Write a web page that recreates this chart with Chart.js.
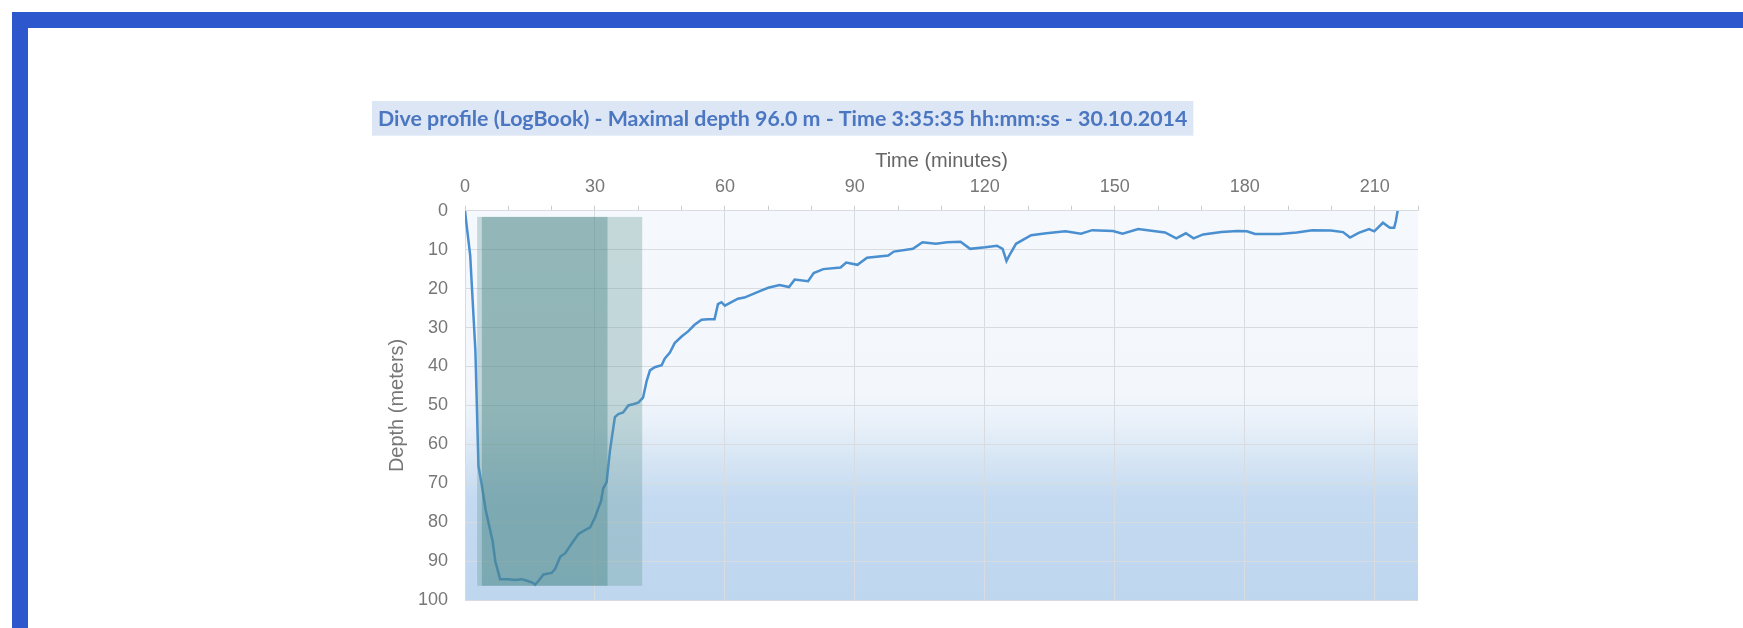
<!DOCTYPE html>
<html>
<head>
<meta charset="utf-8">
<script src="https://cdn.jsdelivr.net/npm/chart.js@4"></script>
<style>
  html, body { margin: 0; padding: 0; background: #fff; overflow: hidden; }
  #wrap { position: relative; width: 1743px; height: 628px; }
  #myChart { position: absolute; left: 0; top: 0; }
  .edge { position: absolute; background: #2c57cd; }
</style>
</head>
<body>
<div id="wrap">
  <canvas id="myChart" width="1743" height="628"></canvas>
  <div class="edge" style="left:12px; top:12px; width:1731px; height:16px;"></div>
  <div class="edge" style="left:12px; top:12px; width:16px; height:616px;"></div>
</div>
<script>
// dive log samples (minutes, meters)
const timeMin = [
  0, 0.3, 1.2, 2.4, 3.1, 3.8, 4.8, 5.8, 6.4, 7.0, 8.1, 10, 11.6, 13.1, 14.3, 15.4, 16.2, 17, 18.1, 20,
  20.8, 22, 23.1, 24.6, 26.2, 27.7, 28.9, 30, 30.8, 31.4, 31.9, 32.7, 33.5, 34.6, 35.4, 36.5, 37.7, 38.8, 40, 41.1,
  41.9, 42.7, 43.8, 45.4, 46.1, 47.3, 48.4, 50, 51.5, 53, 54.6, 56.1, 57.6, 58.4, 59.2, 60, 61.5, 63, 64.5, 66,
  68.2, 70, 72.6, 74.8, 76.1, 79.2, 80.5, 82.7, 86.7, 88.0, 90.6, 92.8, 97.7, 99.0, 103.4, 105.6, 108.7, 111.3, 114.4, 116.6,
  120.1, 122.8, 124.1, 125.0, 125.9, 127.2, 130.7, 134.2, 138.6, 142.2, 144.8, 149.6, 151.8, 155.4, 158.9, 161.6, 164.2, 166.4, 168.2, 170.4,
  174.6, 178.3, 180.5, 182.4, 188.0, 192.0, 195.6, 199.9, 202.7, 204.3, 206.3, 208.7, 209.9, 211.9, 213.5, 214.5, 214.9, 215.3
];
const depthM = [
  0, 3, 11.5, 36, 65.5, 70, 77, 82, 85, 90, 94.6, 94.6, 94.8, 94.6, 95, 95.4, 96, 95, 93.4, 93,
  92, 88.8, 88, 85.5, 83, 82, 81.3, 78.8, 76.3, 74.6, 71.3, 69.7, 61.3, 53, 52.2, 51.8, 50, 49.7, 49.3, 48,
  43.9, 41, 40.2, 39.7, 38, 36.4, 34, 32.3, 31, 29.3, 28, 27.9, 27.9, 24, 23.5, 24.4, 23.5, 22.6, 22.3, 21.6,
  20.6, 19.8, 19.1, 19.6, 17.7, 18.1, 16.0, 15.0, 14.6, 13.3, 13.9, 12.1, 11.5, 10.5, 9.8, 8.1, 8.5, 8.1, 8.0, 9.8,
  9.4, 9.0, 9.8, 12.9, 11.0, 8.5, 6.3, 5.8, 5.3, 5.9, 5.0, 5.2, 5.9, 4.7, 5.2, 5.6, 7.1, 5.8, 7.1, 6.1,
  5.5, 5.2, 5.3, 6.0, 6.0, 5.6, 5.0, 5.1, 5.5, 6.9, 5.7, 4.7, 5.3, 3.1, 4.4, 4.4, 2.6, 0
];

// shaded phases (minutes) and their depth span
const bandStart = [2.8, 3.9];
const bandEnd = [40.9, 32.9];
const bandTop = 1.6;
const bandBottom = 96.3;

const titleText = "Dive profile (LogBook) - Maximal depth 96.0 m - Time 3:35:35 hh:mm:ss - 30.10.2014";
const tickFont = { family: "Liberation Sans", size: 18 };
const axisFont = { family: "Liberation Sans", size: 20 };

const points = timeMin.map((t, i) => ({ x: t, y: depthM[i] }));

const plotBackground = {
  id: "plotBackground",
  beforeDraw(chart) {
    const { ctx, chartArea: a } = chart;
    const g = ctx.createLinearGradient(0, a.top, 0, a.bottom);
    g.addColorStop(0, "#f5f8fc");
    g.addColorStop(0.47, "#f3f7fc");
    g.addColorStop(0.55, "#e8f0f9");
    g.addColorStop(0.64, "#d6e5f4");
    g.addColorStop(0.74, "#c4daf1");
    g.addColorStop(1, "#bed6ee");
    ctx.save();
    ctx.fillStyle = g;
    ctx.fillRect(a.left, a.top, a.right - a.left, a.bottom - a.top);
    ctx.restore();
  }
};

const titleBackdrop = {
  id: "titleBackdrop",
  beforeDraw(chart) {
    const tb = chart.titleBlock;
    if (!tb) return;
    const { ctx } = chart;
    ctx.save();
    ctx.font = "bold 21.4px Lato";
    const w = ctx.measureText(titleText).width;
    ctx.fillStyle = "#dde6f4";
    ctx.fillRect(tb.left - 6, tb.top, w + 12, tb.height);
    ctx.restore();
  }
};

const phaseBands = {
  id: "phaseBands",
  afterDatasetsDraw(chart) {
    const { ctx, scales: { x, y } } = chart;
    const colors = ["rgba(92,150,145,0.32)", "rgba(60,125,125,0.36)"];
    ctx.save();
    for (let i = 0; i < bandStart.length; i++) {
      const x0 = x.getPixelForValue(bandStart[i]);
      const x1 = x.getPixelForValue(bandEnd[i]);
      const y0 = y.getPixelForValue(bandTop);
      const y1 = y.getPixelForValue(bandBottom);
      ctx.fillStyle = colors[i];
      ctx.fillRect(x0, y0, x1 - x0, y1 - y0);
    }
    ctx.restore();
  }
};

const ctx = document.getElementById("myChart").getContext("2d");
const myChart = new Chart(ctx, {
  type: "line",
  data: {
    datasets: [
      {
        label: "Depth",
        data: points,
        borderColor: "#4a8fd0",
        borderWidth: 2.5,
        pointRadius: 0,
        fill: false,
        tension: 0,
      },
    ],
  },
  options: {
    responsive: false,
    animation: false,
    devicePixelRatio: 1,
    layout: { padding: { left: 378, right: 325, top: 101, bottom: 17 } },
    plugins: {
      legend: { display: false },
      tooltip: { enabled: false },
      title: {
        display: true,
        text: titleText,
        align: "start",
        color: "#4a76c2",
        font: { family: "Lato", size: 21.4, weight: "bold" },
        padding: { top: 5, bottom: 4 },
      },
    },
    scales: {
      x: {
        type: "linear",
        position: "top",
        min: 0,
        max: 220,
        afterFit: (scale) => { scale.height = 75; },
        title: { display: true, text: "Time (minutes)", color: "#666", font: axisFont, padding: { top: 14, bottom: 0 } },
        ticks: {
          stepSize: 10,
          autoSkip: false,
          maxRotation: 0,
          padding: 8,
          color: "#777",
          font: tickFont,
          callback: (v) => (v % 30 === 0 ? v : ""),
        },
        grid: {
          color: (c) => (c.tick && c.tick.value % 30 === 0 ? "#d8dce1" : "rgba(0,0,0,0)"),
          tickColor: "#c9cdd2",
          tickLength: 5,
        },
        border: { color: "#d8dce1" },
      },
      y: {
        reverse: true,
        min: 0,
        max: 100,
        afterFit: (scale) => { scale.width = 87; },
        title: { display: true, text: "Depth (meters)", color: "#777", font: axisFont, padding: { top: 7, bottom: 0 } },
        ticks: { stepSize: 10, padding: 17, color: "#777", font: tickFont },
        grid: { color: "#d8dce1", drawTicks: false },
        border: { color: "#d8dce1" },
      },
    },
  },
  plugins: [plotBackground, titleBackdrop, phaseBands],
});
</script>
</body>
</html>
